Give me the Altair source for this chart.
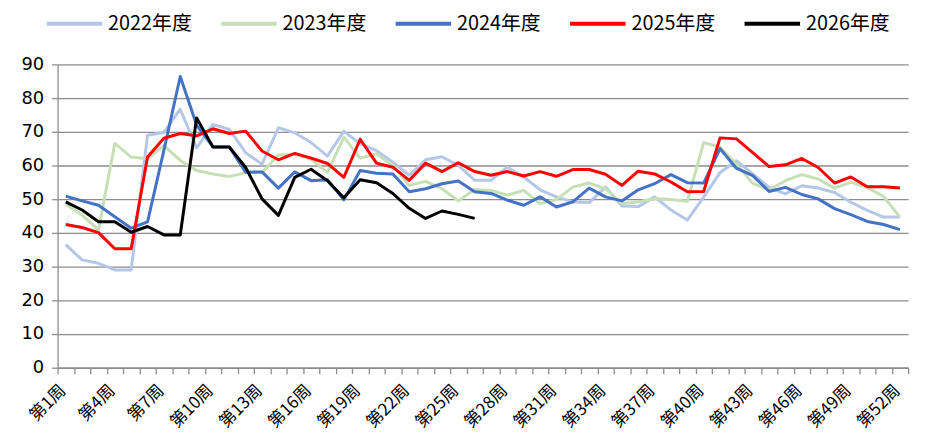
import json
import altair as alt
import pandas as pd

WEEKS = ["第%d周" % i for i in range(1, 53)]
SHOWN = ["第1周", "第4周", "第7周", "第10周", "第13周", "第16周", "第19周", "第22周",
         "第25周", "第28周", "第31周", "第34周", "第37周", "第40周", "第43周", "第46周",
         "第49周", "第52周"]

YEARS = ["2022年度", "2023年度", "2024年度", "2025年度", "2026年度"]
COLORS = ["#B4C7E7", "#C5E0B4", "#4472C4", "#FF0000", "#000000"]

Y2022 = [36.5, 32, 31, 29, 29, 69, 69.8, 76.7, 65.2, 72.2, 70.7, 63.8, 60.4, 71.2, 69.7, 66.8,
         62.8, 70.2, 66.4, 64.4, 61, 57.1, 61.7, 62.6, 60, 55.6, 55.6, 59.5, 56.6, 52.8, 50.7,
         49.2, 49, 53.6, 48, 47.8, 50.7, 46.8, 43.8, 50.6, 57.9, 61.4, 57.5, 53.5, 51.6, 54,
         53.3, 52, 49.1, 46.7, 44.7, 44.7]
Y2023 = [48.5, 45.3, 40.9, 66.6, 62.5, 62, 65.9, 61.5, 58.5, 57.5, 56.7, 57.9, 57.9, 63.1, 63.3,
         61.9, 57.9, 68.4, 62.2, 63.4, 60, 54.1, 55.3, 53.1, 49.5, 52.9, 52.6, 51.2, 52.6, 48.7,
         49.9, 53.6, 54.8, 53.1, 48.7, 49.2, 50.2, 49.9, 49.4, 66.8, 65.5, 60.4, 54.7, 52.8,
         55.5, 57.3, 56, 53.3, 55, 53.5, 50.8, 44.7]
Y2024 = [50.9, 49.5, 48.2, 44.8, 41.4, 43.3, 64.5, 86.4, 72, 65.5, 65.5, 58, 58.1, 53.3, 58.1,
         55.5, 55.8, 49.8, 58.5, 57.7, 57.5, 52.2, 53.1, 54.6, 55.4, 52.2, 51.7, 49.7, 48.2,
         50.7, 47.7, 49.2, 53.3, 50.7, 49.5, 52.8, 54.6, 57.3, 54.9, 54.8, 65, 59.2, 57, 52.3,
         53.5, 51.4, 50.1, 47.2, 45.4, 43.4, 42.5, 41]
Y2025 = [42.5, 41.6, 40.1, 35.3, 35.3, 62.5, 68.1, 69.5, 68.8, 70.9, 69.5, 70.2, 64.3, 61.7,
         63.6, 62.2, 60.6, 56.5, 67.8, 60.7, 59.5, 55.6, 60.7, 58.2, 60.8, 58.2, 57.1, 58.2,
         56.9, 58.2, 56.8, 58.8, 58.8, 57.4, 54.1, 58.3, 57.5, 55.1, 52.2, 52.3, 68.2, 67.9,
         63.8, 59.7, 60.2, 62.1, 59.4, 54.8, 56.6, 53.7, 53.7, 53.3]
Y2026 = [49.2, 46.8, 43.3, 43.3, 40.2, 41.9, 39.4, 39.4, 74.1, 65.5, 65.5, 59.4, 50.1, 45.2,
         56.5, 58.9, 55.5, 50.4, 55.8, 54.9, 51.7, 47.3, 44.3, 46.5, 45.5, 44.3]

SERIES = [Y2022, Y2023, Y2024, Y2025, Y2026]
rows = []
for year, vals in zip(YEARS, SERIES):
    for wk, v in zip(WEEKS, vals):
        rows.append({"week": wk, "year": year, "value": v})
df = pd.DataFrame(rows)

GRID = "#8c8c8c"
label_expr = "indexof(%s, datum.value) >= 0 ? datum.value : ''" % json.dumps(SHOWN, ensure_ascii=False)

chart = alt.Chart(df).mark_line(strokeWidth=3, strokeJoin="round").encode(
    x=alt.X("week:N", sort=WEEKS,
            scale=alt.Scale(type="band", paddingInner=0, paddingOuter=0, range=[0, 858]),
            bandPosition=0.5,
            axis=alt.Axis(title=None, labelExpr=label_expr, labelAngle=-45,
                          labelOverlap=False, tickBand="extent", grid=False,
                          labelFont="Noto Sans CJK SC", labelFontSize=17,
                          labelColor="#000000", labelPadding=14, labelAlign="right",
                          labelBaseline="middle", labelOffset=-3,
                          tickColor=GRID, tickSize=6, tickWidth=1.3,
                          domainColor=GRID, domainWidth=1.3)),
    y=alt.Y("value:Q", scale=alt.Scale(domain=[0, 90]),
            axis=alt.Axis(title=None, values=list(range(0, 100, 10)),
                          labelFont="DejaVu Sans", labelFontSize=18, labelColor="#000000",
                          labelPadding=8, tickColor=GRID, tickSize=6, tickWidth=1.3,
                          domainColor=GRID, domainWidth=1.3,
                          gridColor=GRID, gridWidth=1.3)),
    color=alt.Color("year:N", sort=YEARS,
                    scale=alt.Scale(domain=YEARS, range=COLORS),
                    legend=alt.Legend(title=None, orient="none", direction="horizontal",
                                      legendX=1, legendY=-57,
                                      symbolType="M-2,0H2", symbolSize=784,
                                      symbolStrokeWidth=4, symbolFillColor="transparent",
                                      labelFont="Noto Sans CJK SC",
                                      labelFontSize=20, labelColor="#000000",
                                      labelOffset=18, columnPadding=21, padding=0,
                                      labelLimit=200)),
).properties(
    width=867, height=306,
    autosize=alt.AutoSizeParams(type="none"),
    padding={"left": 50, "top": 55, "right": 6, "bottom": 70},
).configure_view(stroke=None)

chart.save("out.html", embed_options={"renderer": "svg", "actions": False})
